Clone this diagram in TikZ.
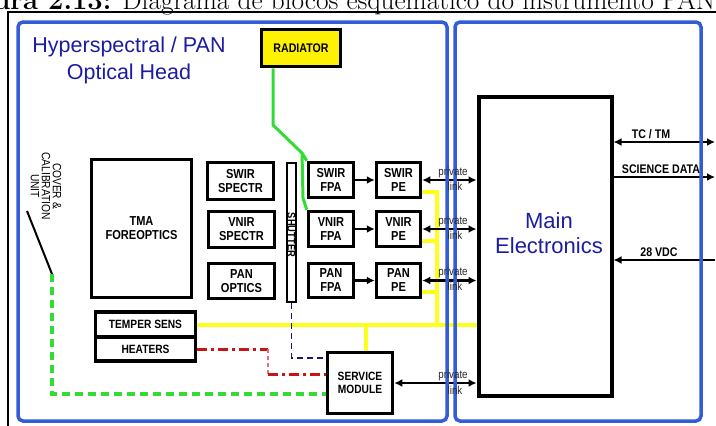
\documentclass[tikz,border=0pt]{standalone}
\usepackage{fontspec}
\newfontfamily\arial{Liberation Sans}
\newfontfamily\arialn[FakeStretch=0.85]{Liberation Sans}
\usetikzlibrary{arrows.meta,calc}
\definecolor{panelblue}{RGB}{52,92,214}
\definecolor{titleblue}{RGB}{28,28,160}
\definecolor{ylw}{RGB}{255,255,30}
\definecolor{grn}{RGB}{50,220,50}
\definecolor{redd}{RGB}{200,20,20}
\definecolor{navy}{RGB}{20,20,130}
\begin{document}
\begin{tikzpicture}[x=1pt,y=-1pt,
  box/.style={draw, line width=3.5pt, inner sep=0pt, align=center,
    font=\arialn\bfseries\fontsize{13}{14}\selectfont},
  sbox/.style={box, font=\arialn\bfseries\fontsize{12}{13}\selectfont},
  panel/.style={draw=panelblue, line width=3.5pt, rounded corners=5pt},
  ttl/.style={anchor=base, inner sep=0pt, text=titleblue, font=\arial\fontsize{21.5}{22}\selectfont},
  arr/.style={line width=2.6pt, -{Latex[length=8pt,width=8pt]}},
  darr/.style={line width=2.8pt, {Latex[length=8pt,width=8pt]}-{Latex[length=8pt,width=8pt]}},
  ylwline/.style={draw=ylw, line width=4pt},
  grnline/.style={draw=grn, line width=3pt, line join=round},
  grndash/.style={draw=grn, line width=3.2pt, dash pattern=on 8pt off 5pt},
  redline/.style={draw=redd, line width=3pt, dash pattern=on 10pt off 4pt on 3pt off 4pt},
  redthin/.style={draw=redd!60, line width=1.2pt, dash pattern=on 4pt off 3pt},
  navyline/.style={draw=navy, line width=1.7pt, dash pattern=on 6pt off 4pt},
  lab/.style={inner sep=0pt, font=\arialn\bfseries\fontsize{12.5}{13}\selectfont},
  plab/.style={inner sep=0pt, text=black!85, font=\arialn\fontsize{11.5}{11}\selectfont}]
\useasboundingbox (0,0) rectangle (716,426);
\clip (0,0) rectangle (716,426);

% caption (cropped)
\node[anchor=base west, inner sep=0pt, font=\fontsize{27.3}{29}\selectfont] (cap) at (-50,9)
  {\textbf{Figura 2.13:} Diagrama de blocos esquemático do instrumento PAN};
\draw[line width=1.3pt] (8,426) -- (8,12) -- (716,12);

% boxes
\node[box, fill=yellow, minimum width=79pt, minimum height=37pt,
  font=\arialn\bfseries\fontsize{12.5}{13}\selectfont] (rad) at (301,48) {RADIATOR};
\node[box, minimum width=100pt, minimum height=138pt] (tma) at (141.5,228.5) {TMA\\FOREOPTICS};
\node[box, minimum width=66pt, minimum height=37pt] (swirsp) at (240.5,181) {SWIR\\SPECTR};
\node[box, minimum width=66pt, minimum height=36pt] (vnirsp) at (241.5,229.5) {VNIR\\SPECTR};
\node[box, minimum width=66pt, minimum height=35pt] (panopt) at (241.5,281) {PAN\\OPTICS};
\node[draw, line width=2.5pt, inner sep=0pt, minimum width=9pt, minimum height=139pt] (shutter) at (291.5,232.5) {};
\node[rotate=-90, inner sep=0pt, font=\arialn\bfseries\fontsize{11}{12}\selectfont] (shuttxt) at (291.5,235) {SHUTTER};
\node[box, minimum width=45pt, minimum height=35pt] (swirfpa) at (331,180) {SWIR\\FPA};
\node[box, minimum width=45pt, minimum height=35pt] (vnirfpa) at (331,229) {VNIR\\FPA};
\node[box, minimum width=45pt, minimum height=34pt] (panfpa) at (331,280.5) {PAN\\FPA};
\node[box, minimum width=44pt, minimum height=35pt] (swirpe) at (398.5,180) {SWIR\\PE};
\node[box, minimum width=44pt, minimum height=35pt] (vnirpe) at (398.5,229) {VNIR\\PE};
\node[box, minimum width=44pt, minimum height=34pt] (panpe) at (398.5,280.5) {PAN\\PE};
\node[sbox, minimum width=100pt, minimum height=25pt] (ts) at (145.5,324.5) {TEMPER SENS};
\node[sbox, minimum width=100pt, minimum height=24pt] (heat) at (145.5,349) {HEATERS};
\node[sbox, minimum width=65pt, minimum height=61pt] (sm) at (360,383) {SERVICE\\MODULE};
\node[draw, line width=4pt, inner sep=0pt, minimum width=133pt, minimum height=299pt] (me) at (545,246) {};

% titles
\node[ttl] (t1) at (129,52) {Hyperspectral / PAN};
\node[ttl] (t2) at (129,79) {Optical Head};
\node[ttl, font=\arial\fontsize{22}{22}\selectfont] (m1) at (549,228) {Main};
\node[ttl, font=\arial\fontsize{22}{22}\selectfont] (m2) at (549,253) {Electronics};

% cover & calibration unit
\node[rotate=-90, align=center, inner sep=0pt, font=\arialn\fontsize{12}{11}\selectfont] (cov) at (46,186)
  {COVER \&\\CALIBRATION\\UNIT};
\coordinate (cov1) at (27,211);
\coordinate (cov2) at (52,274);
\draw[line width=2pt] (cov1) -- (cov2);

% green radiator line
\coordinate (g1) at (273,125);
\coordinate (g2) at (302,153);
\coordinate (g3) at (303,198);
\draw[grnline] ([xshift=-28pt]rad.south) -- (g1) -- (g2) -- (swirfpa.north west);
\draw[grnline] (g2) -- (g3) -- (vnirfpa.north west);

% yellow lines
\coordinate (ytop) at (437,191);
\draw[ylwline] ([yshift=7pt]swirpe.south east) -| (ts.east -| ytop);
\draw[ylwline] ([yshift=7pt]vnirpe.south east) -- ([yshift=7pt]vnirpe.south east -| ytop);
\draw[ylwline] ([yshift=7pt]panpe.south east) -- ([yshift=7pt]panpe.south east -| ytop);
\draw[ylwline] (ts.east) -- (ts.east -| me.west);
\draw[ylwline] ([xshift=6pt]sm.north) -- ([xshift=6pt]sm.north |- ts.east);

% red heater line
\coordinate (rk) at (268,0);
\draw[redline] (heat.east) -- (heat.east -| rk);
\draw[redthin] (heat.east -| rk) -- ([yshift=9pt]sm.west -| rk);
\draw[redline] ([yshift=9pt]sm.west -| rk) -- ([yshift=9pt]sm.west);

% shutter line
\draw[navyline] (shutter.south) |- ([yshift=25pt]sm.west);

% cover line
\draw[grndash] (cov2) |- ([yshift=-11pt]sm.west);

% arrows
\draw[arr] (swirfpa) -- (swirpe);
\draw[arr] (vnirfpa) -- (vnirpe);
\draw[arr] (panfpa) -- (panpe);
\draw[darr] (swirpe.east) -- (swirpe.east -| me.west);
\draw[darr] (vnirpe.east) -- (vnirpe.east -| me.west);
\draw[darr] (panpe.east) -- (panpe.east -| me.west);
\draw[darr] (sm.east) -- (sm.east -| me.west);
\coordinate (tc) at (715,142);
\coordinate (sd) at (715,177);
\coordinate (vdc) at (715,260);
\draw[darr] (tc -| me.east) -- (tc);
\draw[arr] (sd -| me.east) -- (sd);
\draw[arr] (vdc) -- (vdc -| me.east);

% panels
\draw[panel] (18,22) rectangle (447,421);
\draw[panel] (455,22) rectangle (701,421);

% labels
\node[plab] (p1a) at (453,173) {private};
\node[plab] (p1b) at (455,186) {link};
\node[plab] (p2a) at (453,222) {private};
\node[plab] (p2b) at (455,235) {link};
\node[plab] (p3a) at (453,273) {private};
\node[plab] (p3b) at (455,286) {link};
\node[plab] (p4a) at (453,376) {private};
\node[plab] (p4b) at (455,390) {link};
\node[lab] (ltc) at (651,134) {TC / TM};
\node[lab] (lsd) at (661,169) {SCIENCE DATA};
\node[lab] (lvdc) at (659,252) {28 VDC};
\end{tikzpicture}
\end{document}
